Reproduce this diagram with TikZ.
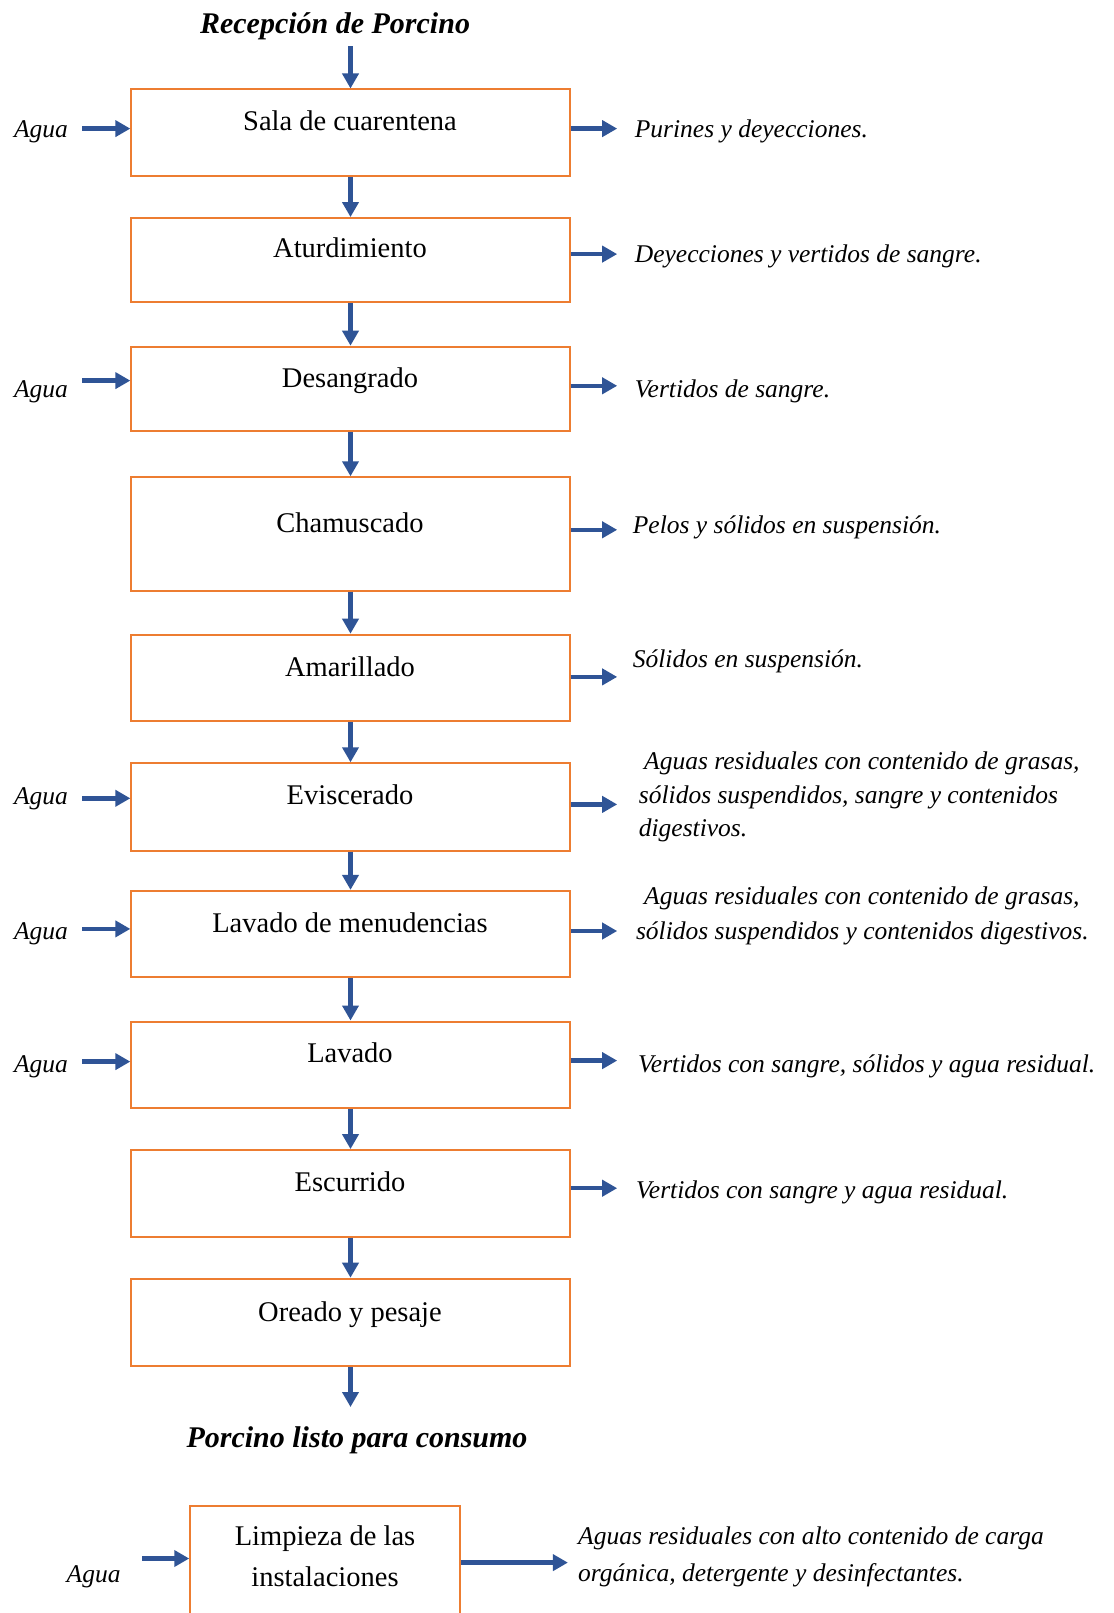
\documentclass[tikz,border=0pt]{standalone}
\usepackage{fontspec}
\setmainfont{Liberation Serif}
\usetikzlibrary{arrows.meta}
\definecolor{boxorange}{HTML}{ED7D31}
\definecolor{arrblue}{HTML}{2F5496}
\tikzset{
  procbox/.style={draw=boxorange, line width=2pt, rectangle, inner sep=0pt},
  lab/.style={anchor=base, inner sep=0pt, font=\fontsize{28.5}{34}\selectfont},
  outtext/.style={anchor=base west, inner sep=0pt, font=\fontsize{25.5}{31}\selectfont\itshape},
  aguatext/.style={anchor=base, inner sep=0pt, font=\fontsize{25.5}{31}\selectfont\itshape},
  titletext/.style={anchor=base, inner sep=0pt, font=\fontsize{30}{36}\selectfont\bfseries\itshape},
  arr/.style={draw=arrblue, line width=4.5pt, -{Triangle[length=15pt,width=16pt]}, color=arrblue},
}
\begin{document}
\begin{tikzpicture}[x=1pt,y=-1pt]
\clip (0,0) rectangle (1113,1613);
\fill[white] (0,0) rectangle (1113,1613);

% title
\node[titletext] (title) at (335,34) {Recepción de Porcino};
\coordinate (topin) at (350.5,46.3);

% main boxes
\node[procbox, minimum width=438.3pt, minimum height=86.4pt] (b1) at (350.5,132.7) {};
\node[procbox, minimum width=438.3pt, minimum height=84.3pt] (b2) at (350.5,260.25) {};
\node[procbox, minimum width=438.3pt, minimum height=84.3pt] (b3) at (350.5,388.85) {};
\node[procbox, minimum width=438.3pt, minimum height=113.2pt] (b4) at (350.5,533.9) {};
\node[procbox, minimum width=438.3pt, minimum height=86.4pt] (b5) at (350.5,677.9) {};
\node[procbox, minimum width=438.3pt, minimum height=87.4pt] (b6) at (350.5,807) {};
\node[procbox, minimum width=438.3pt, minimum height=86.4pt] (b7) at (350.5,934.1) {};
\node[procbox, minimum width=438.3pt, minimum height=86.4pt] (b8) at (350.5,1064.7) {};
\node[procbox, minimum width=438.3pt, minimum height=86.4pt] (b9) at (350.5,1193.3) {};
\node[procbox, minimum width=438.3pt, minimum height=87.4pt] (b10) at (350.5,1322.4) {};

% labels
\node[lab] (t1) at (350,130.9) {Sala de cuarentena};
\node[lab] (t2) at (350,257.4) {Aturdimiento};
\node[lab] (t3) at (350,387) {Desangrado};
\node[lab] (t4) at (350,532.1) {Chamuscado};
\node[lab] (t5) at (350,676.1) {Amarillado};
\node[lab] (t6) at (350,804.7) {Eviscerado};
\node[lab] (t7) at (350,932.2) {Lavado de menudencias};
\node[lab] (t8) at (350,1062.9) {Lavado};
\node[lab] (t9) at (350,1191.5) {Escurrido};
\node[lab] (t10) at (350,1321.1) {Oreado y pesaje};

% vertical arrows
\draw[arr] (topin) -- (b1.north);
\draw[arr] (b1.south) -- (b2.north);
\draw[arr] (b2.south) -- (b3.north);
\draw[arr] (b3.south) -- (b4.north);
\draw[arr] (b4.south) -- (b5.north);
\draw[arr] (b5.south) -- (b6.north);
\draw[arr] (b6.south) -- (b7.north);
\draw[arr] (b7.south) -- (b8.north);
\draw[arr] (b8.south) -- (b9.north);
\draw[arr] (b9.south) -- (b10.north);
\coordinate (endout) at (350.5,1407);
\draw[arr] (b10.south) -- (endout);
\node[titletext] (final) at (357,1447) {Porcino listo para consumo};

% water inputs
\node[aguatext] (a1) at (41,137.1) {Agua};
\node[aguatext] (a3) at (41,397.3) {Agua};
\node[aguatext] (a6) at (41,804.7) {Agua};
\node[aguatext] (a7) at (41,939.5) {Agua};
\node[aguatext] (a8) at (41,1072.2) {Agua};
\coordinate (in1) at (82.3,128.6);
\coordinate (in3) at (82.3,380.6);
\coordinate (in6) at (82.3,798.3);
\coordinate (in7) at (82.3,928.9);
\coordinate (in8) at (82.3,1061.6);
\draw[arr] (in1) -- (in1 -| b1.west);
\draw[arr] (in3) -- (in3 -| b3.west);
\draw[arr] (in6) -- (in6 -| b6.west);
\draw[arr] (in7) -- (in7 -| b7.west);
\draw[arr] (in8) -- (in8 -| b8.west);

% outputs
\coordinate (o1) at (617.2,128.6);
\coordinate (o2) at (617.2,254.1);
\coordinate (o3) at (617.2,385.8);
\coordinate (o4) at (617.2,529.8);
\coordinate (o5) at (617.2,676.9);
\coordinate (o6) at (617.2,804.4);
\coordinate (o7) at (617.2,931);
\coordinate (o8) at (617.2,1060.6);
\coordinate (o9) at (617.2,1188.2);
\draw[arr] (o1 -| b1.east) -- (o1);
\draw[arr] (o2 -| b2.east) -- (o2);
\draw[arr] (o3 -| b3.east) -- (o3);
\draw[arr] (o4 -| b4.east) -- (o4);
\draw[arr] (o5 -| b5.east) -- (o5);
\draw[arr] (o6 -| b6.east) -- (o6);
\draw[arr] (o7 -| b7.east) -- (o7);
\draw[arr] (o8 -| b8.east) -- (o8);
\draw[arr] (o9 -| b9.east) -- (o9);

\node[outtext] (r1) at (634.7,137.1) {Purines y deyecciones.};
\node[outtext] (r2) at (634.7,262.6) {Deyecciones y vertidos de sangre.};
\node[outtext] (r3) at (634.7,397.3) {Vertidos de sangre.};
\node[outtext] (r4) at (632.7,533.1) {Pelos y sólidos en suspensión.};
\node[outtext] (r5) at (632.7,667.9) {Sólidos en suspensión.};
\node[outtext] (r6a) at (644,769.7) {Aguas residuales con contenido de grasas,};
\node[outtext] (r6b) at (638.7,803.7) {sólidos suspendidos, sangre y contenidos};
\node[outtext] (r6c) at (638.7,836.6) {digestivos.};
\node[outtext] (r7a) at (644,904.5) {Aguas residuales con contenido de grasas,};
\node[outtext] (r7b) at (635.8,939.5) {sólidos suspendidos y contenidos digestivos.};
\node[outtext] (r8) at (638,1072.2) {Vertidos con sangre, sólidos y agua residual.};
\node[outtext] (r9) at (636,1198.7) {Vertidos con sangre y agua residual.};

% cleaning box
\node[procbox, minimum width=269.5pt, minimum height=140pt] (b11) at (325,1576) {};
\node[lab] (t11a) at (325,1545.4) {Limpieza de las};
\node[lab] (t11b) at (325,1586.5) {instalaciones};
\node[aguatext] (a11) at (93.6,1582.5) {Agua};
\coordinate (in11) at (142,1558.5);
\draw[arr] (in11) -- (in11 -| b11.west);
\coordinate (o11) at (567.9,1562.6);
\draw[arr] (o11 -| b11.east) -- (o11);
\node[outtext] (r11a) at (578,1544.4) {Aguas residuales con alto contenido de carga};
\node[outtext] (r11b) at (578,1581.4) {orgánica, detergente y desinfectantes.};
\end{tikzpicture}
\end{document}
